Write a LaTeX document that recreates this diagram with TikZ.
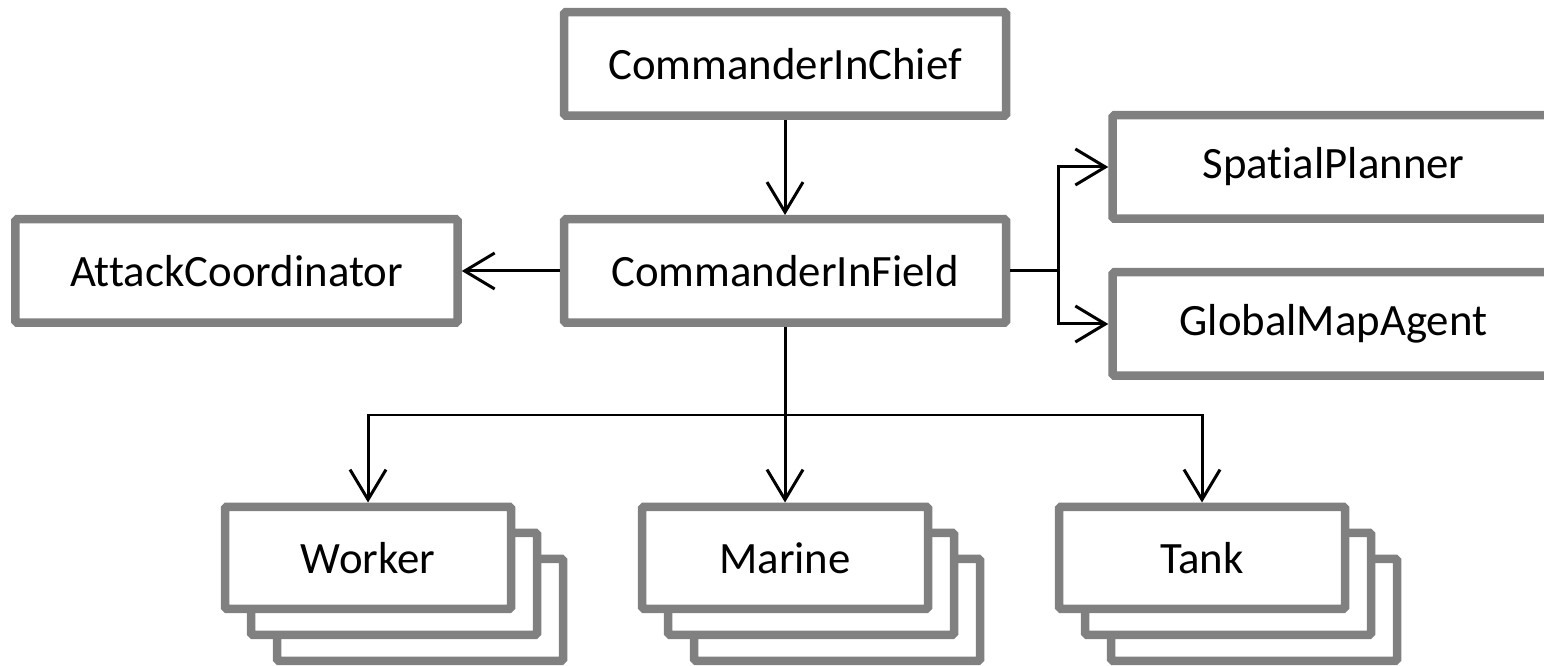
\documentclass[tikz,border=0pt]{standalone}
\usepackage{fontspec}
\setmainfont{Carlito}[Ligatures=NoCommon]
\usepackage{tikz}
\usetikzlibrary{positioning,arrows.meta,backgrounds}
\definecolor{boxgray}{RGB}{128,128,128}

\begin{document}
\begin{tikzpicture}[
	font=\fontsize{25.5}{30}\selectfont,
	agent/.style={draw=boxgray, line width=0.17cm, fill=white, rounded corners=1pt, align=center, minimum width=8.84cm, minimum height=2.07cm},
	unit/.style={draw=boxgray, line width=0.17cm, fill=white, rounded corners=1pt, align=center, minimum width=5.72cm, minimum height=2.04cm},
	link/.style={line width=0.06cm, -{Straight Barb[length=0.6cm, width=0.72cm]}}
	]
	\useasboundingbox (0,0) rectangle (30.88,13.3);
	
	%==================== command chain ====================
	\node[agent] (chief) at (15.7,12.02) {CommanderInChief};
	\node[agent, below=1.9cm of chief] (field) {CommanderInField};
	\node[agent, left=1.96cm of field] (attack) {AttackCoordinator};
	
	\draw[link] (chief) -- (field);
	\draw[link] (field) -- (attack);
	
	%==================== planners ====================
	\node[agent, right=1.96cm of field, yshift=2.08cm] (spatial) {SpatialPlanner};
	\node[agent, below=0.9cm of spatial] (globalmap) {GlobalMapAgent};
	
	\coordinate (rsplit) at ([xshift=0.96cm]field.east);
	\draw[line width=0.06cm] (field.east) -- (rsplit);
	\draw[link] (rsplit) |- (spatial.west);
	\draw[link] (rsplit) |- (globalmap.west);
	
	%==================== units ====================
	\node[unit, below=3.51cm of field] (marine) {Marine};
	\node[unit, left=2.45cm of marine] (worker) {Worker};
	\node[unit, right=2.45cm of marine] (tank) {Tank};
	
	\begin{pgfonlayer}{background}
		\node[unit] (worker3) at ([shift={(1.04,-1.04)}]worker.center) {};
		\node[unit] (worker2) at ([shift={(0.52,-0.52)}]worker.center) {};
		\node[unit] (marine3) at ([shift={(1.04,-1.04)}]marine.center) {};
		\node[unit] (marine2) at ([shift={(0.52,-0.52)}]marine.center) {};
		\node[unit] (tank3) at ([shift={(1.04,-1.04)}]tank.center) {};
		\node[unit] (tank2) at ([shift={(0.52,-0.52)}]tank.center) {};
	\end{pgfonlayer}
	
	\coordinate (bsplit) at (15.7,5.0);
	\draw[link] (field) -- (marine);
	\draw[link] (bsplit) -| (worker.north);
	\draw[link] (bsplit) -| (tank.north);
	
\end{tikzpicture}
\end{document}
